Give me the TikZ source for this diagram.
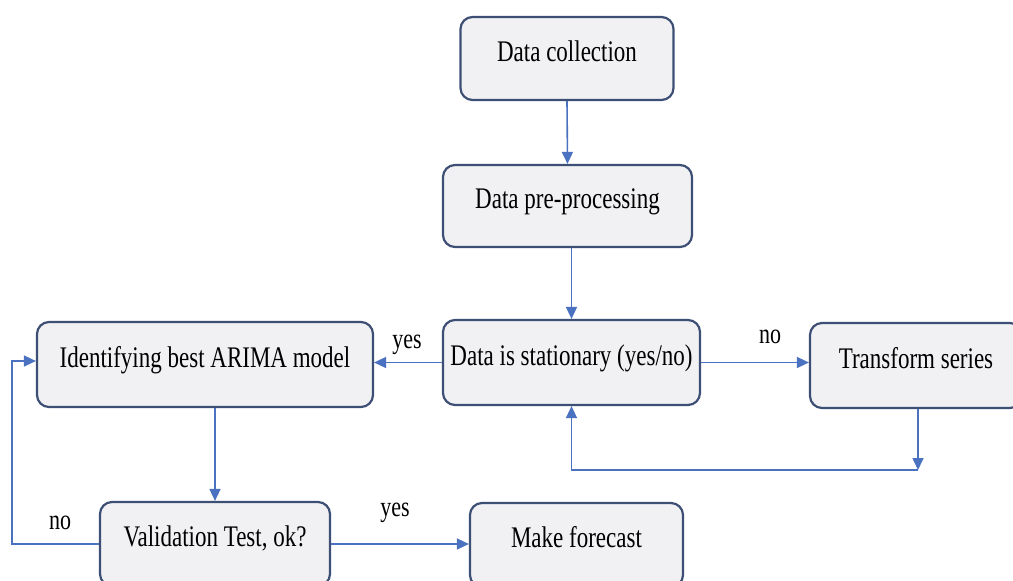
\documentclass[tikz,border=0pt]{standalone}
\usepackage{fontspec}
\setmainfont{Liberation Serif}
\usetikzlibrary{arrows.meta}
\definecolor{boxborder}{HTML}{3E4F75}
\definecolor{boxfill}{HTML}{F1F1F3}
\definecolor{arrowblue}{HTML}{4A72C0}
\newcommand{\tallt}[1]{\scalebox{1}[1.3]{#1}}
\tikzset{
  flowbox/.style={draw=boxborder, line width=2.2pt, fill=boxfill, rounded corners=12pt,
    font=\fontsize{23}{26}\selectfont, text height=20pt, text depth=15pt, inner sep=0pt},
  flowarrow/.style={draw=arrowblue, line width=1.6pt, -{Triangle[length=12pt,width=11pt]}},
  lbl/.style={font=\fontsize{22}{24}\selectfont, inner sep=0pt}
}
\begin{document}
\begin{tikzpicture}[x=1pt,y=-1pt]
\clip (0,0) rectangle (1013,581);
\fill[white] (0,0) rectangle (1013,581);
\node[flowbox, minimum width=213pt, minimum height=83pt] (dc) at (567,58.5) {\tallt{Data collection}};
\node[flowbox, minimum width=249pt, minimum height=82pt] (dpp) at (567.5,206) {\tallt{Data pre-processing}};
\node[flowbox, minimum width=257pt, minimum height=85pt] (ds) at (571.5,362.5) {\tallt{Data is stationary (yes/no)}};
\node[flowbox, minimum width=212pt, minimum height=85pt] (ts) at (916,365.5) {\tallt{Transform series}};
\node[flowbox, minimum width=336pt, minimum height=85pt] (arima) at (205,364.5) {\tallt{Identifying best ARIMA model}};
\node[flowbox, minimum width=230pt, minimum height=84pt] (val) at (215,544) {\tallt{Validation Test, ok?}};
\node[flowbox, minimum width=213pt, minimum height=84pt] (mf) at (576.5,545) {\tallt{Make forecast}};

\draw[flowarrow] (dc.south) -- (dpp.north);
\draw[flowarrow] (dpp.south -| ds.north) -- (ds.north);
\draw[flowarrow] (ds.west) -- (ds.west -| arima.east);
\draw[flowarrow] (ds.east) -- (ds.east -| ts.west);
\coordinate (tsdown) at (918,470);
\draw[flowarrow] (ts.south -| tsdown) -- (tsdown);
\draw[flowarrow] (tsdown) -- (tsdown -| ds.south) -- (ds.south);
\draw[flowarrow] (arima.south -| val.north) -- (val.north);
\draw[flowarrow] (val.east) -- (val.east -| mf.west);
\coordinate (loopbot) at (12,544);
\coordinate (looptop) at (12,361);
\draw[flowarrow] (val.west) -- (loopbot) -- (looptop) -- (arima.west |- looptop);

\node[lbl] (yes1) at (407,345) {\tallt{yes}};
\node[lbl] (no1) at (770,337) {\tallt{no}};
\node[lbl] (yes2) at (395,513) {\tallt{yes}};
\node[lbl] (no2) at (60,523) {\tallt{no}};
\end{tikzpicture}
\end{document}
